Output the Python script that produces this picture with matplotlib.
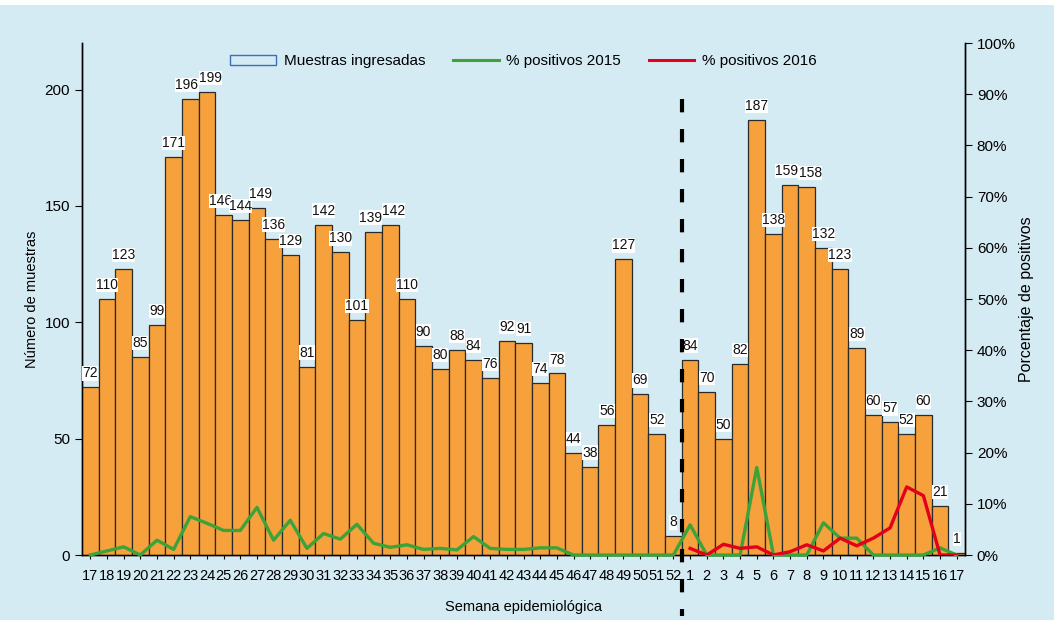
import matplotlib
matplotlib.use("Agg")
import matplotlib.pyplot as plt
from matplotlib.patches import Patch, Rectangle
from matplotlib.lines import Line2D
from matplotlib.ticker import PercentFormatter
import numpy as np

plt.rcParams['font.family'] = ['Liberation Sans', 'DejaVu Sans']

# semanas epidemiologicas: 17-52 (2015) y 1-17 (2016)
weeks = [str(w) for w in range(17, 53)] + [str(w) for w in range(1, 18)]

muestras = [72, 110, 123, 85, 99, 171, 196, 199, 146, 144, 149, 136, 129, 81,
            142, 130, 101, 139, 142, 110, 90, 80, 88, 84, 76, 92, 91, 74, 78,
            44, 38, 56, 127, 69, 52, 8,
            84, 70, 50, 82, 187, 138, 159, 158, 132, 123, 89, 60, 57, 52, 60, 21, 1]

pos_2015 = [0.0, 0.8, 1.6, 0.0, 2.9, 1.1, 7.5, 6.2, 4.8, 4.8, 9.3, 2.9, 6.8, 1.3,
            4.2, 3.1, 6.0, 2.3, 1.5, 2.0, 1.1, 1.3, 1.0, 3.6, 1.3, 1.1, 1.1, 1.4, 1.4,
            0, 0, 0, 0, 0, 0, 0,
            5.9, 0, 0, 0, 17.1, 0, 0, 0, 6.3, 3.3, 3.3, 0, 0, 0, 0, 1.4, 0]

pos_2016 = [1.3, 0, 2.1, 1.3, 1.6, 0, 0.65, 2.0, 0.8, 3.3, 1.8, 3.3, 5.3, 13.3, 11.6, 0, 0]

x = np.arange(len(weeks))
x16 = x[36:]

fig = plt.figure(figsize=(10.54, 6.2), dpi=100, facecolor='#d5ebf3')
fig.patches.append(Rectangle((0, 0.992), 1, 0.008, transform=fig.transFigure,
                             facecolor='white', edgecolor='none'))
ax = fig.add_axes([0.0778, 0.1048, 0.8378, 0.8258])
ax2 = ax.twinx()
ax.set_zorder(2)
ax.patch.set_visible(False)
ax2.set_zorder(1)
ax2.patch.set_facecolor('white')

ax.bar(x, muestras, width=1.0, color='#f6a13b', edgecolor='#2a2a2a', linewidth=0.9, zorder=2)

# separar un poco las etiquetas de 3 cifras que quedan pegadas
shift = np.zeros(len(muestras))
for i in range(len(muestras) - 1):
    a, b = muestras[i], muestras[i + 1]
    if a >= 100 and b >= 100 and abs(a - b) < 6:
        shift[i] -= 0.2
        shift[i + 1] += 0.2

for xi, v, dx in zip(x, muestras, shift):
    ax.text(xi + dx, v + 3, str(v), ha='center', va='bottom', fontsize=10, color='#111111',
            bbox=dict(facecolor='white', edgecolor='none', pad=0.1), zorder=3)

# lineas de porcentaje dibujadas en el eje de muestras (escala 100% = 220)
scale = 220 / 100
ax.plot(x, np.array(pos_2015) * scale, color='#3ca33a', lw=2.4, zorder=4, clip_on=False)
ax.plot(x16, np.array(pos_2016) * scale, color='#e3001b', lw=2.4, zorder=4)

# division entre 2015 y 2016
ax.plot([35.5, 35.5], [196, -26], color='black', lw=3, dashes=(3.2, 4), zorder=6, clip_on=False)

ax.set_xlim(-0.5, len(weeks) - 0.5)
ax.set_ylim(0, 220)
ax.set_yticks([0, 50, 100, 150, 200])
ax.set_xticks(x)
ax.set_xticklabels(weeks, fontsize=10.5)
ax.tick_params(axis='x', length=3, pad=7, direction='out')
ax.tick_params(axis='y', labelsize=11, length=5)
ax.set_ylabel('Número de muestras', fontsize=10.5, labelpad=4)
ax.set_xlabel('Semana epidemiológica', fontsize=10.5, labelpad=12)

ax2.set_ylim(0, 1)
ax2.set_yticks(np.arange(0, 1.01, 0.1))
ax2.yaxis.set_major_formatter(PercentFormatter(1.0, decimals=0))
ax2.tick_params(axis='y', labelsize=11, length=5)
ax2.set_ylabel('Porcentaje de positivos', fontsize=11.5, labelpad=2)

for a in (ax, ax2):
    a.spines['top'].set_visible(False)
    for s in ('left', 'right', 'bottom'):
        a.spines[s].set_linewidth(1.0)

handles = [Patch(facecolor='#d6eaf5', edgecolor='#3a6fb5', label='Muestras ingresadas'),
           Line2D([], [], color='#3ca33a', lw=2.2, label='% positivos 2015'),
           Line2D([], [], color='#e3001b', lw=2.2, label='% positivos 2016')]
ax.legend(handles=handles, loc='upper center', bbox_to_anchor=(0.5, 1.005), ncol=3,
          frameon=False, fontsize=11, handlelength=3.0, columnspacing=1.8, handletextpad=0.5)

fig.savefig('out.png', dpi=100, facecolor=fig.get_facecolor())
